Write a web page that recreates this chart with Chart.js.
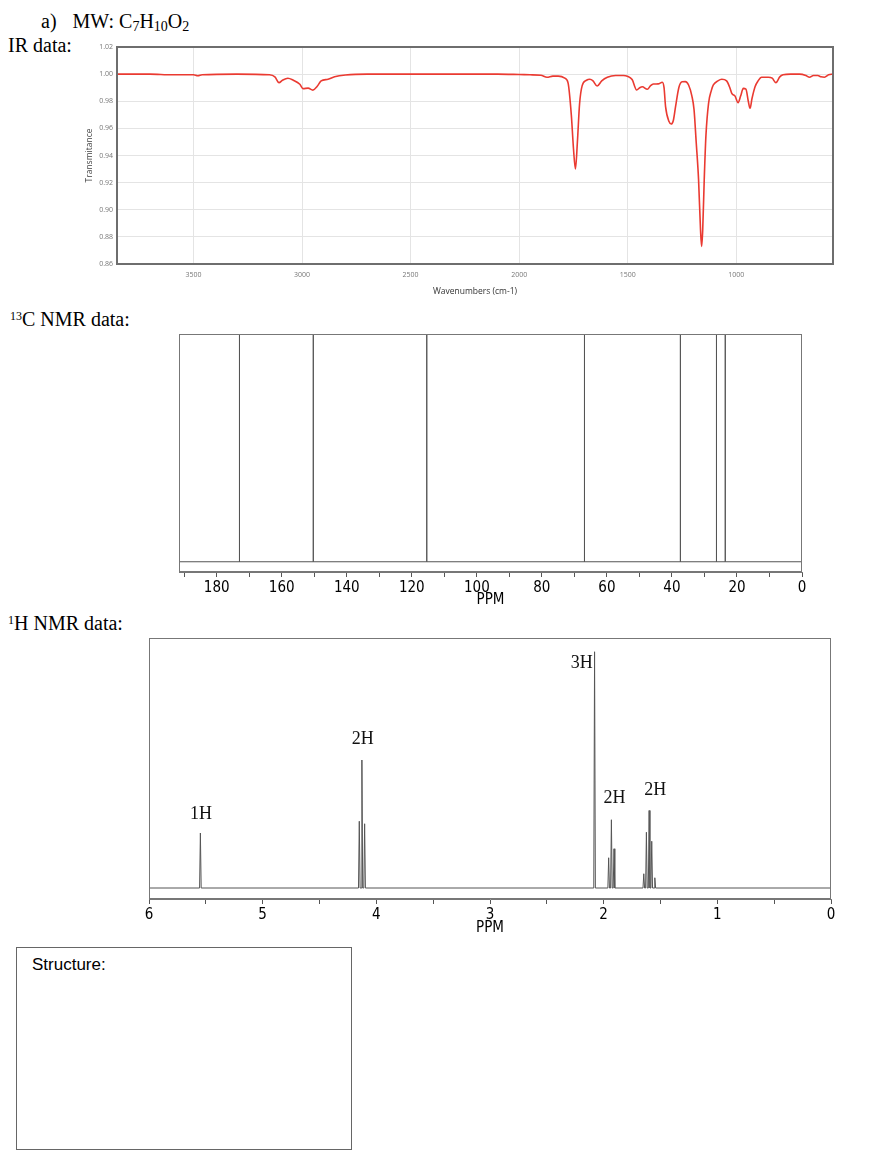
<!DOCTYPE html>
<html><head><meta charset="utf-8">
<script src="https://cdn.jsdelivr.net/npm/chart.js@4.4.1/dist/chart.umd.min.js"></script>
<style>
html,body{margin:0;padding:0;background:#fff;}
body{width:892px;height:1176px;position:relative;overflow:hidden;}
.h{position:absolute;font-family:'Liberation Serif','Times New Roman',serif;font-size:20px;line-height:20px;color:#000;white-space:nowrap;}
.h sub{font-size:14px;vertical-align:-3px;line-height:0;}
.h sup{font-size:12px;vertical-align:6px;line-height:0;}
canvas{position:absolute;}
#box{position:absolute;left:16px;top:947px;width:334px;height:201px;border:1px solid #666;}
#box span{position:absolute;left:15px;top:8px;font-family:'Liberation Sans',Arial,sans-serif;font-size:17px;line-height:17px;color:#000;}
</style></head>
<body>
<div class="h" style="left:41px;top:11px;">a)<span style="display:inline-block;width:16px"></span>MW: C<sub>7</sub>H<sub>10</sub>O<sub>2</sub></div>
<div class="h" style="left:8px;top:35px;">IR data:</div>
<div class="h" style="left:10px;top:309px;"><sup>13</sup>C NMR data:</div>
<div class="h" style="left:8px;top:613px;"><sup>1</sup>H NMR data:</div>
<canvas id="ir" width="765" height="264" style="left:80px;top:37px"></canvas>
<canvas id="c13" width="640" height="290" style="left:170px;top:326px"></canvas>
<canvas id="h1" width="702" height="312" style="left:140px;top:630px"></canvas>
<div id="box"><span>Structure:</span></div>
<script>
// ---------- IR spectrum ----------
const irWavenumbers = [3852,3700,3600,3500,3480,3460,3300,3150,3125,3106,3090,3065,3040,3010,2995,2972,2950,2930,2912,2880,2850,2800,2700,2400,2100,2000,1950,1900,1872,1845,1820,1790,1775,1760,1750,1741,1732,1722,1710,1690,1675,1660,1641,1620,1594,1556,1520,1502,1480,1459,1445,1433,1410,1395,1382,1360,1341,1333,1326,1310,1300,1290,1280,1265,1250,1235,1220,1205,1195,1185,1174,1165,1160,1155,1148,1140,1128,1115,1106,1085,1067,1045,1030,1021,1006,992,980,968,956,945,937,928,914,900,884,853,835,818,800,785,750,709,680,663,645,625,610,594,575,555];
const irTransmittance = [1.000,1.000,0.9995,0.9995,0.9988,0.9995,1.000,0.9995,0.998,0.9937,0.9955,0.997,0.9955,0.9925,0.9893,0.9897,0.9882,0.991,0.995,0.9962,0.998,0.9993,1.000,1.000,1.000,0.9997,0.9995,0.9992,0.9977,0.9985,0.9985,0.997,0.9935,0.970,0.945,0.930,0.950,0.978,0.9915,0.9955,0.9962,0.995,0.9912,0.995,0.9977,0.999,0.999,0.9985,0.996,0.9883,0.990,0.9907,0.9888,0.9915,0.9927,0.9928,0.994,0.990,0.976,0.965,0.9632,0.966,0.976,0.990,0.9944,0.9945,0.992,0.984,0.974,0.950,0.922,0.885,0.873,0.885,0.922,0.955,0.9785,0.988,0.992,0.995,0.9962,0.995,0.990,0.9858,0.9838,0.9789,0.984,0.9895,0.989,0.980,0.9748,0.982,0.9907,0.995,0.9977,0.9977,0.997,0.9937,0.998,0.9995,1.000,1.000,0.999,0.9977,0.999,0.999,0.998,0.9977,0.9995,1.000];
const irXTicks = [3500,3000,2500,2000,1500,1000];
const irYTicks = [0.86,0.88,0.90,0.92,0.94,0.96,0.98,1.00,1.02];

// ---------- 13C NMR ----------
const c13Shifts = [173.0,150.3,115.4,66.9,37.4,26.3,23.6];
const c13Heights = [1,1,1,1,1,1,1];
const c13Ticks = [190,180,170,160,150,140,130,120,110,100,90,80,70,60,50,40,30,20,10,0];

// ---------- 1H NMR ----------
const h1Shifts = [5.548,4.150,4.127,4.103,2.080,1.956,1.932,1.909,1.647,1.624,1.600,1.577,1.550];
const h1Heights = [0.220,0.267,0.512,0.257,0.945,0.121,0.273,0.157,0.057,0.223,0.310,0.187,0.041];
const h1Ticks = [6,5.5,5,4.5,4,3.5,3,2.5,2,1.5,1,0.5,0];
const h1IntegralTexts = ['1H','2H','3H','2H','2H'];
const h1IntegralAt = [5.543,4.12,2.095,1.904,1.547];   // ppm of each integral label
const h1IntegralLevel = [0.275,0.577,0.879,0.340,0.373];
const h1IntegralAlign = ['center','center','right','center','center'];

function spikes(shifts, heights, halfWidth, lo, hi) {
  const pts = [{x: hi, y: 0}];
  const order = shifts.map((s, i) => i).sort((a, b) => shifts[b] - shifts[a]);
  for (const i of order) {
    pts.push({x: shifts[i] + halfWidth, y: 0}, {x: shifts[i], y: heights[i]}, {x: shifts[i] - halfWidth, y: 0});
  }
  pts.push({x: lo, y: 0});
  return pts;
}

const framePlugin = {
  id: 'frame',
  afterDraw(chart, args, opts) {
    const {ctx, chartArea: a} = chart;
    ctx.save();
    ctx.strokeStyle = opts.color;
    ctx.lineWidth = opts.width;
    const o = opts.width % 2 ? 0.5 : 0;
    ctx.strokeRect(Math.round(a.left) + o, Math.round(a.top) + o, Math.round(a.right - a.left) - (o ? 1 : 0), Math.round(a.bottom - a.top) - (o ? 1 : 0));
    ctx.restore();
  }
};

const integralPlugin = {
  id: 'integrals',
  afterDatasetsDraw(chart, args, opts) {
    if (!opts.texts) return;
    const {ctx, scales} = chart;
    ctx.save();
    ctx.font = '18px "Liberation Serif", "Times New Roman", serif';
    ctx.fillStyle = '#111';
    ctx.textBaseline = 'alphabetic';
    opts.texts.forEach((t, i) => {
      ctx.textAlign = opts.align[i];
      ctx.fillText(t, scales.x.getPixelForValue(opts.at[i]), scales.y.getPixelForValue(opts.level[i]));
    });
    ctx.restore();
  }
};

Chart.register(framePlugin, integralPlugin);

const nmrTickFont = {family: '"Liberation Sans Narrow", "DejaVu Sans Condensed", "Liberation Sans", sans-serif', size: 15};

// IR chart
new Chart(document.getElementById('ir'), {
  type: 'line',
  data: {datasets: [{
    data: irWavenumbers.map((w, i) => ({x: w, y: irTransmittance[i]})),
    borderColor: '#ea3a31', borderWidth: 1.6, pointRadius: 0, fill: false,
    cubicInterpolationMode: 'monotone'
  }]},
  options: {
    responsive: false, devicePixelRatio: 1, animation: false,
    layout: {padding: {left: 0, right: 12, top: 10, bottom: 0}},
    plugins: {legend: {display: false}, tooltip: {enabled: false},
      frame: {color: '#6e6e6e', width: 2}},
    scales: {
      x: {type: 'linear', reverse: true, min: 555, max: 3852,
        afterBuildTicks: s => { s.ticks = irXTicks.map(v => ({value: v})); },
        afterFit: s => { s.height = 37; },
        ticks: {autoSkip: false, maxRotation: 0, padding: 3, color: '#777',
          callback: v => String(v),
          font: {family: '"Open Sans", sans-serif', size: 7}},
        grid: {color: '#e4e4e4', drawTicks: true, tickLength: 4, tickColor: 'rgba(0,0,0,0)'},
        border: {display: false},
        title: {display: true, text: 'Wavenumbers (cm-1)', color: '#333',
          font: {family: '"Open Sans", sans-serif', size: 8.5}}
      },
      y: {min: 0.86, max: 1.02,
        afterBuildTicks: s => { s.ticks = irYTicks.map(v => ({value: v})); },
        afterFit: s => { s.width = 37; },
        ticks: {padding: 0, color: '#777', callback: v => Number(v).toFixed(2),
          font: {family: '"Open Sans", sans-serif', size: 7}},
        grid: {color: '#e4e4e4', drawTicks: true, tickLength: 4, tickColor: 'rgba(0,0,0,0)'},
        border: {display: false},
        title: {display: true, text: 'Transmitance', color: '#444',
          font: {family: '"Open Sans", sans-serif', size: 8.5}}
      }
    }
  }
});

function nmrOptions(maxPpm, ticks, labelFn, axisHeight, padding, yMin, extraPlugins) {
  return {
    responsive: false, devicePixelRatio: 1, animation: false,
    layout: {padding: padding},
    plugins: Object.assign({legend: {display: false}, tooltip: {enabled: false},
      frame: {color: '#777', width: 1}}, extraPlugins || {}),
    scales: {
      x: {type: 'linear', reverse: true, min: 0, max: maxPpm,
        afterBuildTicks: s => { s.ticks = ticks.map(v => ({value: v})); },
        afterFit: s => { s.height = axisHeight; },
        ticks: {autoSkip: false, maxRotation: 0, padding: 2, color: '#000', font: nmrTickFont,
          callback: labelFn},
        grid: {drawOnChartArea: false, drawTicks: true, tickLength: 5, tickColor: '#555'},
        border: {display: true, color: '#777'},
        title: {display: true, text: 'PPM', color: '#000', font: nmrTickFont, padding: 0}
      },
      y: {display: false, min: yMin, max: 1}
    }
  };
}

// 13C chart
new Chart(document.getElementById('c13'), {
  type: 'line',
  data: {datasets: [{
    data: spikes(c13Shifts, c13Heights, 0, 0, 191.6),
    borderColor: '#555', borderWidth: 1, pointRadius: 0, tension: 0, fill: false
  }]},
  options: nmrOptions(191.6, c13Ticks, v => (v % 20 === 0 ? String(v) : ''), 37,
    {left: 9, right: 8, top: 8, bottom: 7}, -0.045)
});

// 1H chart
new Chart(document.getElementById('h1'), {
  type: 'line',
  data: {datasets: [{
    data: spikes(h1Shifts, h1Heights, 0.007, 0, 6),
    borderColor: '#555', borderWidth: 1, pointRadius: 0, tension: 0, fill: false
  }]},
  options: nmrOptions(6, h1Ticks, v => (Number.isInteger(v) ? String(v) : ''), 38,
    {left: 9, right: 11, top: 8, bottom: 5}, -0.044,
    {integrals: {texts: h1IntegralTexts, at: h1IntegralAt, level: h1IntegralLevel, align: h1IntegralAlign}})
});
</script>
</body></html>
